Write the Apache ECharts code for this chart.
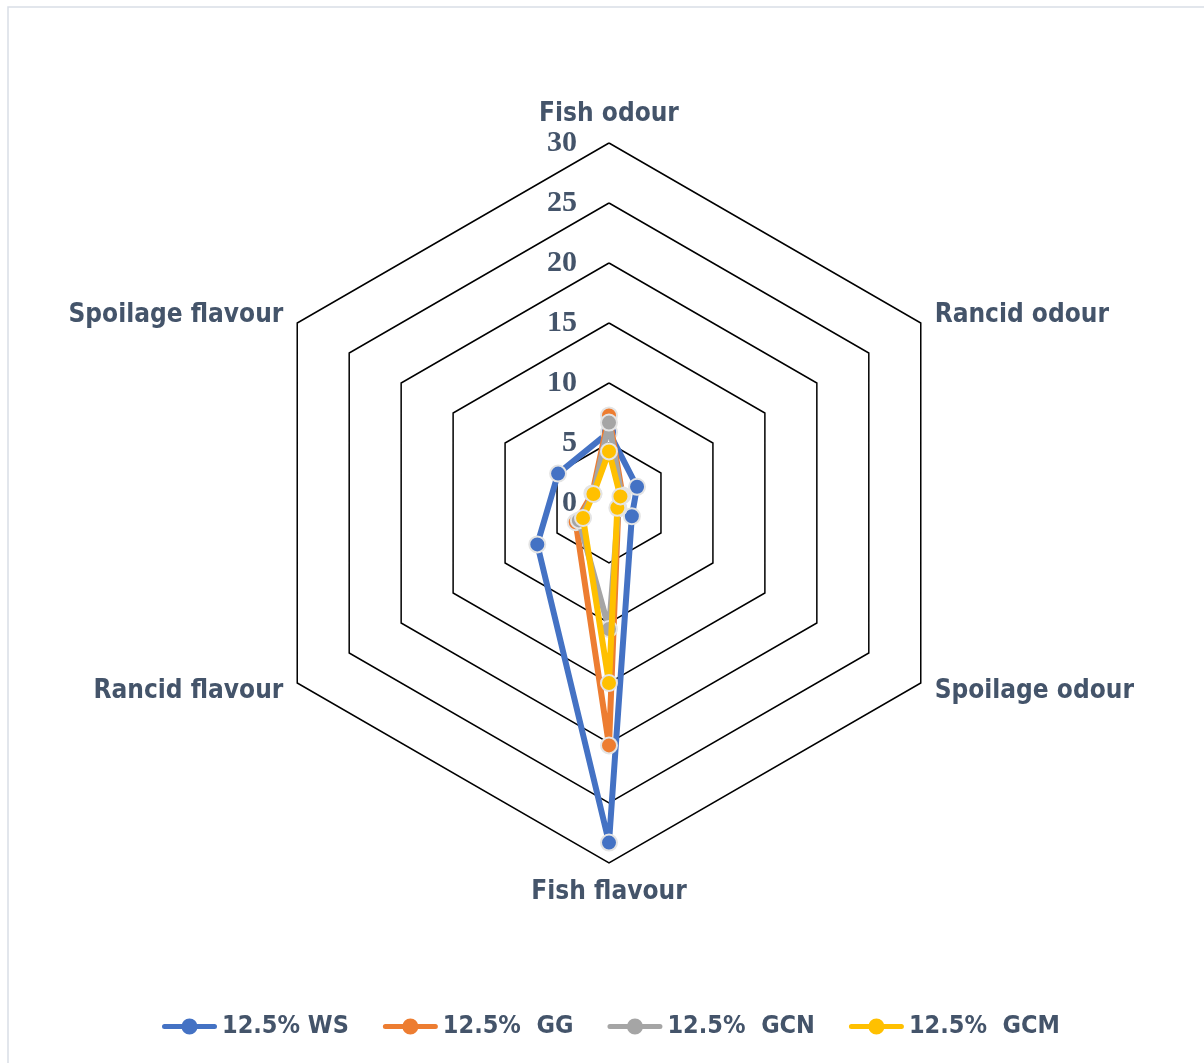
<!DOCTYPE html>
<html>
<head>
<meta charset="utf-8">
<title>Sensory attributes radar</title>
<script src="https://cdn.jsdelivr.net/npm/echarts@6/dist/echarts.min.js"></script>
<style>
  html, body { margin: 0; padding: 0; background: #fff; }
  #chart { width: 1204px; height: 1063px; }
</style>
</head>
<body>
<div id="chart"></div>
<script>
// Sensory attributes, listed clockwise starting from the top
const attributes = ['Fish odour', 'Rancid odour', 'Spoilage odour', 'Fish flavour', 'Rancid flavour', 'Spoilage flavour'];
const scaleTicks = [0, 5, 10, 15, 20, 25, 30];

// Scores per treatment, same order as attributes
const ws  = [5.9, 2.7, 2.2, 28.3, 6.9, 4.9];
const gg  = [7.3, 1.3, 0.9, 20.2, 3.2, 1.6];
const gcn = [6.7, 1.2, 0.9, 10.5, 2.9, 1.5];
const gcm = [4.3, 1.1, 0.8, 15.0, 2.5, 1.5];

const seriesNames = ['12.5% WS', '12.5%  GG', '12.5%  GCN', '12.5%  GCM'];
const seriesColors = ['#4472C4', '#ED7D31', '#A5A5A5', '#FFC000'];

const LABEL_COLOR = '#44546A';
const NARROW = "'Liberation Sans Narrow', 'Arial Narrow', 'DejaVu Sans Condensed', 'Roboto', sans-serif";

// ECharts lays radar indicators out counter-clockwise; reorder so the
// attributes run clockwise on screen.
const order = [0, 5, 4, 3, 2, 1];
const reorder = arr => order.map(i => arr[i]);

const cx = 609, cy = 503, radius = 360;
const maxVal = scaleTicks[scaleTicks.length - 1];

// Legend icon: short line with a dot in the middle
const lineDotIcon = 'path://M2.5,5.5 L52.5,5.5 A2.5,2.5 0 0 1 52.5,10.5 L2.5,10.5 A2.5,2.5 0 0 1 2.5,5.5 Z ' +
                    'M19.5,8 A8,8 0 1 1 35.5,8 A8,8 0 1 1 19.5,8 Z';

const allValues = [ws, gg, gcn, gcm];

const chart = echarts.init(document.getElementById('chart'), null, { renderer: 'canvas' });

chart.setOption({
  animation: false,
  backgroundColor: '#fff',
  color: seriesColors,
  graphic: [{
    type: 'rect',
    shape: { x: 8, y: 7, width: 1240, height: 1120 },
    style: { fill: 'none', stroke: '#D9DEE6', lineWidth: 1.5 },
    silent: true,
    z: -1
  }],
  legend: {
    data: seriesNames.map(n => ({ name: n, icon: lineDotIcon })),
    left: 157,
    top: 1009,
    itemWidth: 55,
    itemHeight: 16,
    itemGap: 34,
    itemStyle: { borderWidth: 0 },
    textStyle: { color: LABEL_COLOR, fontFamily: NARROW, fontWeight: 'bold', fontSize: 25 }
  },
  // Value scale printed along the top spoke
  grid: { left: cx, top: cy - radius, width: 1, height: radius },
  xAxis: { type: 'value', show: false },
  yAxis: {
    type: 'value',
    min: 0,
    max: maxVal,
    interval: 5,
    axisLine: { show: false },
    axisTick: { show: false },
    splitLine: { show: false },
    axisLabel: {
      margin: 32,
      color: LABEL_COLOR,
      fontFamily: "'Liberation Serif', 'Times New Roman', serif",
      fontWeight: 'bold',
      fontSize: 30,
      formatter: v => scaleTicks.indexOf(v) >= 0 ? String(v) : ''
    }
  },
  radar: {
    center: [cx, cy],
    radius: radius,
    startAngle: 90,
    shape: 'polygon',
    splitNumber: 6,
    indicator: reorder(attributes).map(name => ({ name: name, min: 0, max: maxVal })),
    nameGap: 16,
    axisName: { color: LABEL_COLOR, fontFamily: NARROW, fontWeight: 'bold', fontSize: 26 },
    axisLine: { show: false },
    axisTick: { show: false },
    axisLabel: { show: false },
    splitArea: { show: false },
    splitLine: { lineStyle: { color: '#000', width: 1.5 } }
  },
  // One series per treatment so each one's markers stack with its own line
  series: allValues.map((vals, k) => ({
    type: 'radar',
    name: seriesNames[k],
    symbol: 'circle',
    symbolSize: 16,
    z: 2 + k,
    color: seriesColors[k],
    lineStyle: { color: seriesColors[k], width: 6 },
    itemStyle: { color: seriesColors[k], borderColor: '#E4E4E4', borderWidth: 2 },
    data: [{ name: seriesNames[k], value: reorder(vals) }]
  }))
});
</script>
</body>
</html>
